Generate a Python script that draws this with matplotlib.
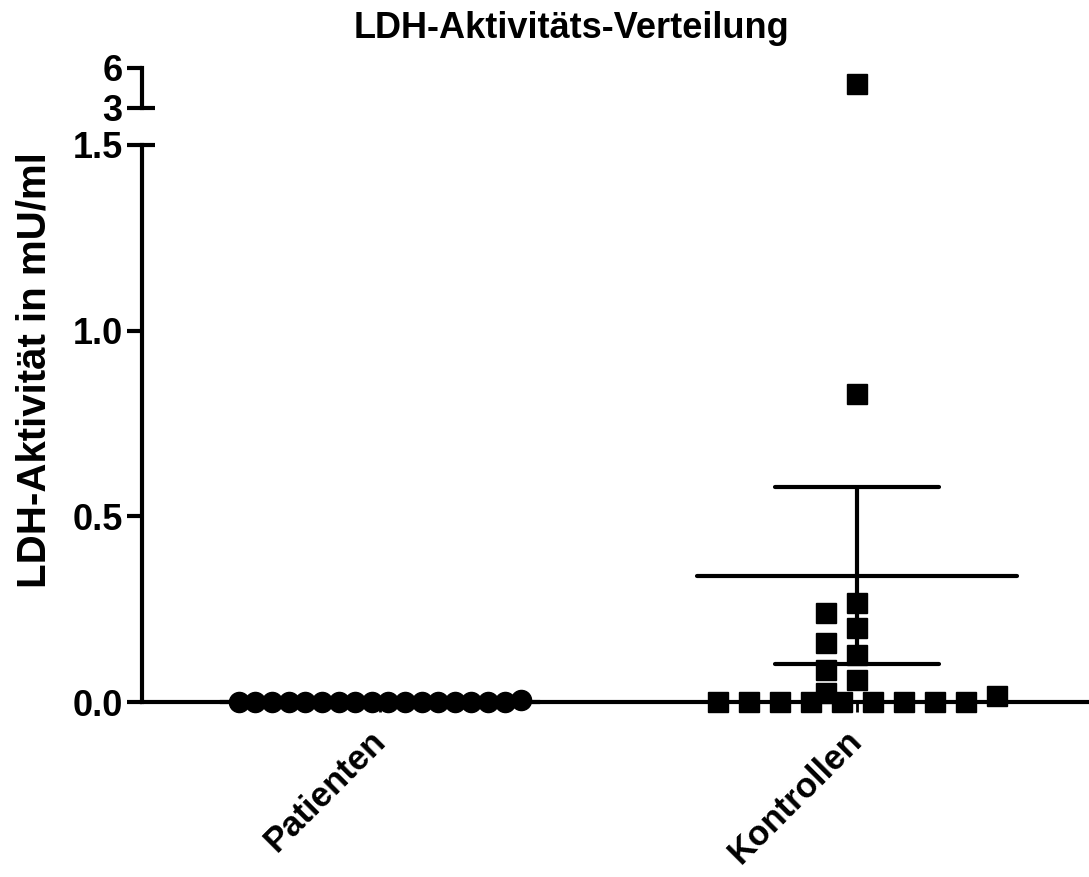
import numpy as np
import matplotlib
matplotlib.use("Agg")
import matplotlib.pyplot as plt

plt.rcParams['font.family'] = ['Liberation Sans', 'DejaVu Sans']
plt.rcParams['font.weight'] = 'bold'

# data (mU/ml)
categories = ["Patienten", "Kontrollen"]
patienten = [0.0] * 17 + [0.006]
kontrollen = [4.8, 0.83, 0.267, 0.24, 0.20, 0.159, 0.127, 0.086, 0.059,
              0.024, 0.016] + [0.0] * 9
title = "LDH-Aktivitäts-Verteilung"
ylabel = "LDH-Aktivität in mU/ml"


def swarm(vals, tol=0.02, step=0.065, maxw=0.296, dy=0.05):
    # rough Prism-like scatter: rows of equal values centred, singles dodged
    vals = np.asarray(vals, dtype=float)
    order = np.argsort(vals, kind="stable")
    v = vals[order]
    rows = []
    for i in range(len(v)):
        if rows and v[i] - v[rows[-1][0]] <= tol:
            rows[-1].append(i)
        else:
            rows.append([i])
    off = np.zeros(len(v))
    singles = []
    for r in rows:
        if len(r) > 2:
            sp = min(step, 2 * maxw / (len(r) - 1))
            off[r] = (np.arange(len(r)) - (len(r) - 1) / 2) * sp
        else:
            singles += r
    placed = []
    for i in sorted(singles, key=lambda i: -v[i]):
        for k in [0, -1, 1, -2, 2]:
            if all(not (abs(v[i] - v[j]) < dy and off[j] == k * step) for j in placed):
                break
        off[i] = k * step
        placed.append(i)
    res = np.empty(len(v))
    res[order] = off
    return res


fig = plt.figure(figsize=(10.89, 8.77), dpi=100)
ax = fig.add_axes([0.1304, 0.1995, 0.8696, 0.6352])
axt = fig.add_axes([0.1304, 0.8769, 0.8696, 0.0456])

xlim = (-0.499, 1.486)
lw = 3.0
groups = [(patienten, 'o', 14.5), (kontrollen, 's', 15)]

for a, (lo, hi) in [(ax, (0, 1.5)), (axt, (3, 6))]:
    a.set_xlim(*xlim)
    a.set_ylim(lo, hi)
    for s in ['top', 'right']:
        a.spines[s].set_visible(False)
    a.spines['left'].set_linewidth(lw)
    a.spines['bottom'].set_linewidth(lw)
    a.tick_params(axis='y', length=11, width=lw, labelsize=26, pad=3)
    a.patch.set_alpha(0)
    for i, (vals, mk, ms) in enumerate(groups):
        v = np.asarray(vals)
        x = i + swarm(vals)
        m = (v >= lo) & (v <= hi)
        a.plot(x[m], v[m], ls='none', marker=mk, ms=ms, color='black',
               clip_on=False, zorder=3)
    # break caps
    yb = hi if a is ax else lo
    a.plot([xlim[0], xlim[0] + 0.027], [yb, yb], color='black', lw=lw,
           solid_capstyle='butt', clip_on=False)

axt.spines['bottom'].set_visible(False)
axt.set_xticks([])
axt.set_yticks([3, 6])
axt.set_yticklabels(['3', '6'])

ax.set_yticks([0, 0.5, 1.0, 1.5])
ax.set_yticklabels(['0.0', '0.5', '1.0', '1.5'])
ax.spines['bottom'].set_bounds(xlim[0], xlim[1])
ax.set_xticks([0, 1])
ax.set_xticklabels(categories, rotation=45, ha='right', va='center',
                   rotation_mode='anchor', fontsize=25)
ax.tick_params(axis='x', length=7, width=2, pad=17)

# mean +/- SEM
for i, vals in enumerate([patienten, kontrollen]):
    v = np.asarray(vals)
    mean = v.mean()
    sem = v.std(ddof=1) / np.sqrt(len(v))
    ax.hlines(mean, i - 0.335, i + 0.335, color='black', lw=lw,
              capstyle='round', zorder=4, clip_on=False)
    ax.hlines([mean - sem, mean + sem], i - 0.172, i + 0.172, color='black',
              lw=lw, capstyle='round', zorder=4, clip_on=False)
    ax.vlines(i, mean - sem, mean + sem, color='black', lw=lw, zorder=4,
              clip_on=False)

fig.text(0.525, 0.968, title, ha='center', va='center', fontsize=26,
         fontweight='bold')
fig.text(0.032, 0.578, ylabel, ha='center', va='center', rotation=90,
         fontsize=29, fontweight='bold')

fig.savefig("out.png", dpi=100)
